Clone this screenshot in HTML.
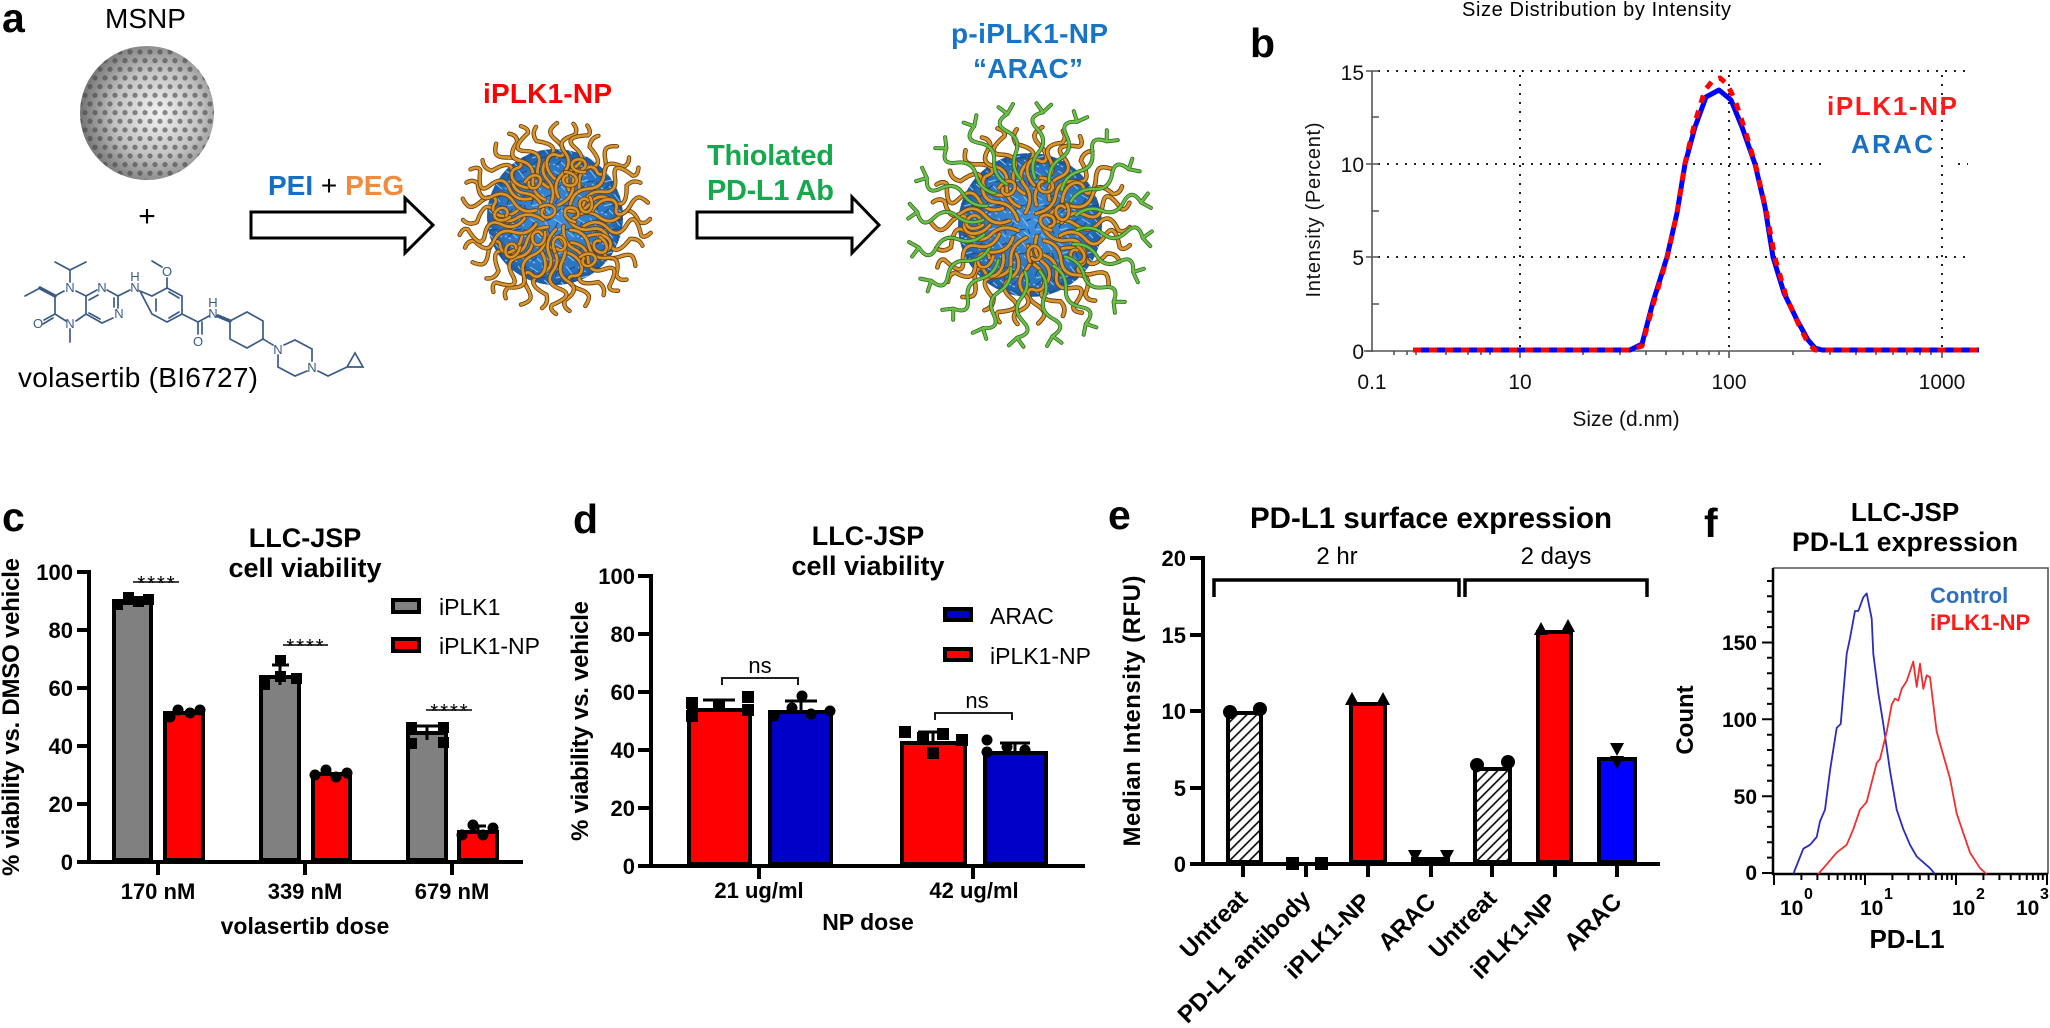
<!DOCTYPE html>
<html><head><meta charset="utf-8"><style>
body{margin:0;background:#fff;}
svg{display:block;}
svg text{font-family:"Liberation Sans",Arial,sans-serif;}
.b{font-weight:bold;}
</style></head><body>
<svg xmlns="http://www.w3.org/2000/svg" width="2050" height="1028" viewBox="0 0 2050 1028">
<defs>
<radialGradient id="sph" cx="0.58" cy="0.5" r="0.6">
<stop offset="0" stop-color="#f2f2f2"/><stop offset="0.55" stop-color="#c2c2c2"/><stop offset="1" stop-color="#6e6e6e"/>
</radialGradient>
<pattern id="holes" patternUnits="userSpaceOnUse" width="10" height="17.32">
<circle cx="0" cy="0" r="2.6" fill="#444" opacity="0.6"/><circle cx="10" cy="0" r="2.6" fill="#444" opacity="0.6"/>
<circle cx="5" cy="8.66" r="2.6" fill="#444" opacity="0.6"/><circle cx="0" cy="17.32" r="2.6" fill="#444" opacity="0.6"/><circle cx="10" cy="17.32" r="2.6" fill="#444" opacity="0.6"/>
</pattern>
<clipPath id="sphc"><circle cx="147" cy="113" r="67"/></clipPath>
<radialGradient id="core" cx="0.5" cy="0.5" r="0.5">
<stop offset="0" stop-color="#3f8fdc"/><stop offset="0.8" stop-color="#2a74c2"/><stop offset="1" stop-color="#1d5aa0"/>
</radialGradient>
<pattern id="fib" patternUnits="userSpaceOnUse" width="24" height="24">
<path d="M2,3 L10,8 M14,2 L20,10 M4,14 L12,12 M16,16 L22,21 M1,20 L7,23 M9,18 L13,22" stroke="#8cc6f4" stroke-width="1" fill="none"/>
<path d="M6,6 L3,12 M18,5 L23,3 M11,14 L18,13 M20,13 L22,18 M3,22 L9,17" stroke="#14488a" stroke-width="1" fill="none"/>
</pattern>
<pattern id="hatch" patternUnits="userSpaceOnUse" width="7" height="7" patternTransform="rotate(45)">
<rect width="7" height="7" fill="#fff"/><line x1="1" y1="0" x2="1" y2="7" stroke="#000" stroke-width="1.6"/>
</pattern>
<path id="pA" d="M20,0 Q32,-9 44,0 T66,-2 T84,5 Q90,8 95,2"/>
<path id="pB" d="M30,4 Q42,-7 54,2 T72,-5 T88,3 Q92,6 97,-1"/>
<path id="pC" d="M12,-3 Q26,7 38,-1 T60,5 T78,-5 Q86,-9 92,-3"/>
<path id="pD" d="M38,0 C50,-14 66,-8 62,2 C58,10 68,12 76,2 S88,-6 94,2"/>
<path id="pL" d="M0,0 C8,-12 20,-6 14,3 C10,9 2,6 4,0"/>
<path id="pG" d="M45,0 Q58,-7 70,1 T92,-3 T108,1 M108,1 L116,-6 M108,1 L116,8"/>
<g id="oA" fill="none" stroke-linecap="round"><use href="#pA" stroke="#6b3d0a" stroke-width="4.4"/><use href="#pA" stroke="#d6952f" stroke-width="2.7"/></g>
<g id="oB" fill="none" stroke-linecap="round"><use href="#pB" stroke="#6b3d0a" stroke-width="4.4"/><use href="#pB" stroke="#d6952f" stroke-width="2.7"/></g>
<g id="oC" fill="none" stroke-linecap="round"><use href="#pC" stroke="#6b3d0a" stroke-width="4.4"/><use href="#pC" stroke="#d6952f" stroke-width="2.7"/></g>
<g id="oD" fill="none" stroke-linecap="round"><use href="#pD" stroke="#6b3d0a" stroke-width="4.4"/><use href="#pD" stroke="#d6952f" stroke-width="2.7"/></g>
<g id="oL" fill="none" stroke-linecap="round"><use href="#pL" stroke="#6b3d0a" stroke-width="4.2"/><use href="#pL" stroke="#d6952f" stroke-width="2.6"/></g>
<g id="oG" fill="none" stroke-linecap="round"><use href="#pG" stroke="#2f6a1c" stroke-width="3.8"/><use href="#pG" stroke="#6cc04a" stroke-width="2.3"/></g>
</defs>

<!-- ================= PANEL A ================= -->
<text x="2" y="32" class="b" font-size="41">a</text>
<text x="105" y="28" font-size="28">MSNP</text>
<circle cx="147" cy="113" r="67" fill="url(#sph)"/>
<g clip-path="url(#sphc)"><rect x="80" y="46" width="134" height="134" fill="url(#holes)"/></g>
<text x="147" y="226" font-size="30" text-anchor="middle">+</text>

<!-- molecule -->
<g stroke="#3b5b85" stroke-width="1.7" fill="none" stroke-linecap="round">
<path d="M55,262 L70,270 L86,262 M70,270 L70,282"/>
<path d="M25,296 L40,288"/>
<path d="M40,288 L55,296" stroke-width="3.5"/>
<path d="M64,291 L55,296 L55,314 L66,321 M76,321 L86,314 L86,296 L76,291"/>
<path d="M55,314 L44,320 M53,318 L43,324"/>
<path d="M70,329 L70,342"/>
<path d="M86,296 L97,290 M89,300 L98,295 M107,290 L118,296 L118,308 M114,298 L114,307 M113,318 L102,323 L86,314 M100,319 L89,313"/>
<path d="M118,296 L130,290"/>
<path d="M140,291 L152,296 L167,288 L182,296 L182,314 L167,322 L152,314 Z"/>
<path d="M156,311 L156,299 M169,318 L179,312 M169,292 L179,298"/>
<path d="M167,288 L167,278 M162,267 L152,261"/>
<path d="M182,314 L198,322 L209,316 M198,322 L198,334 M202,322 L202,334"/>
<path d="M218,316 L230,321" stroke-width="3.5"/>
<path d="M230,321 L247,312 L263,321 L263,339 L247,348 L230,339 Z"/>
<path d="M263,339 L273,345" stroke-dasharray="2 1.5"/>
<path d="M284,345 L295,340 L312,349 L312,361 M307,371 L295,376 L278,367 L278,355"/>
<path d="M318,371 L328,376 L347,367 M347,367 L363,367 L355,353 Z"/>
</g>
<g fill="#3b5b85" font-size="13" text-anchor="middle">
<text x="70" y="292">N</text><text x="70" y="328">N</text><text x="38" y="328">O</text>
<text x="102" y="292">N</text><text x="119" y="318">N</text><text x="135" y="292">N</text><text x="135" y="281">H</text>
<text x="167" y="276">O</text><text x="198" y="346">O</text><text x="213" y="318">N</text><text x="213" y="307">H</text>
<text x="278" y="354">N</text><text x="312" y="372">N</text>
</g>
<text x="18" y="387" font-size="28" textLength="240">volasertib (BI6727)</text>

<!-- arrows -->
<path d="M251,212 L405,212 L405,198 L433,225 L405,253 L405,238 L251,238 Z" fill="#fff" stroke="#000" stroke-width="3"/>
<path d="M697,212 L852,212 L852,197 L879,225 L852,253 L852,238 L697,238 Z" fill="#fff" stroke="#000" stroke-width="3"/>
<text x="268" y="195" font-size="28" class="b"><tspan fill="#1570c0">PEI</tspan><tspan fill="#000" font-weight="normal"> + </tspan><tspan fill="#f08a3c">PEG</tspan></text>
<text x="483" y="103" font-size="28" class="b" fill="#ff0000" textLength="129">iPLK1-NP</text>
<text x="707" y="165" font-size="29" class="b" fill="#16a84c" textLength="127">Thiolated</text>
<text x="707" y="200" font-size="29" class="b" fill="#16a84c" textLength="127">PD-L1 Ab</text>
<text x="951" y="43" font-size="28" class="b" fill="#1874c4" textLength="157">p-iPLK1-NP</text>
<text x="973" y="78" font-size="28" class="b" fill="#1874c4" textLength="110">“ARAC”</text>

<!-- NP1 -->
<g>
<circle cx="555" cy="217" r="68" fill="url(#core)"/>
<circle cx="555" cy="217" r="68" fill="url(#fib)"/>
<g transform="translate(555,217)">
<use href="#oA" transform="rotate(0)"/><use href="#oB" transform="rotate(10)"/><use href="#oC" transform="rotate(20)"/><use href="#oD" transform="rotate(30)"/>
<use href="#oA" transform="rotate(40)"/><use href="#oB" transform="rotate(50)"/><use href="#oC" transform="rotate(60)"/><use href="#oD" transform="rotate(70)"/>
<use href="#oA" transform="rotate(80)"/><use href="#oB" transform="rotate(90)"/><use href="#oC" transform="rotate(100)"/><use href="#oD" transform="rotate(110)"/>
<use href="#oA" transform="rotate(120)"/><use href="#oB" transform="rotate(130)"/><use href="#oC" transform="rotate(140)"/><use href="#oD" transform="rotate(150)"/>
<use href="#oA" transform="rotate(160)"/><use href="#oB" transform="rotate(170)"/><use href="#oC" transform="rotate(180)"/><use href="#oD" transform="rotate(190)"/>
<use href="#oA" transform="rotate(200)"/><use href="#oB" transform="rotate(210)"/><use href="#oC" transform="rotate(220)"/><use href="#oD" transform="rotate(230)"/>
<use href="#oA" transform="rotate(240)"/><use href="#oB" transform="rotate(250)"/><use href="#oC" transform="rotate(260)"/><use href="#oD" transform="rotate(270)"/>
<use href="#oA" transform="rotate(280)"/><use href="#oB" transform="rotate(290)"/><use href="#oC" transform="rotate(300)"/><use href="#oD" transform="rotate(310)"/>
<use href="#oA" transform="rotate(320)"/><use href="#oB" transform="rotate(330)"/><use href="#oC" transform="rotate(340)"/><use href="#oD" transform="rotate(350)"/>
<use href="#oL" transform="translate(-30,-35)"/><use href="#oL" transform="translate(10,-45) rotate(60)"/><use href="#oL" transform="translate(35,-20) rotate(120)"/>
<use href="#oL" transform="translate(-45,0) rotate(200)"/><use href="#oL" transform="translate(-15,-10) rotate(30)"/><use href="#oL" transform="translate(20,5) rotate(250)"/>
<use href="#oL" transform="translate(45,20) rotate(90)"/><use href="#oL" transform="translate(-35,30) rotate(160)"/><use href="#oL" transform="translate(0,35) rotate(300)"/>
<use href="#oL" transform="translate(25,40) rotate(20)"/><use href="#oL" transform="translate(-10,15) rotate(140)"/><use href="#oL" transform="translate(30,-45) rotate(230)"/>
</g>
</g>

<!-- NP2 -->
<g>
<circle cx="1030" cy="225" r="72" fill="url(#core)"/>
<circle cx="1030" cy="225" r="72" fill="url(#fib)"/>
<g transform="translate(1030,225) scale(1.05)">
<use href="#oA" transform="rotate(0)"/><use href="#oB" transform="rotate(12)"/><use href="#oC" transform="rotate(24)"/><use href="#oD" transform="rotate(36)"/>
<use href="#oA" transform="rotate(48)"/><use href="#oB" transform="rotate(60)"/><use href="#oC" transform="rotate(72)"/><use href="#oD" transform="rotate(84)"/>
<use href="#oA" transform="rotate(96)"/><use href="#oB" transform="rotate(108)"/><use href="#oC" transform="rotate(120)"/><use href="#oD" transform="rotate(132)"/>
<use href="#oA" transform="rotate(144)"/><use href="#oB" transform="rotate(156)"/><use href="#oC" transform="rotate(168)"/><use href="#oD" transform="rotate(180)"/>
<use href="#oA" transform="rotate(192)"/><use href="#oB" transform="rotate(204)"/><use href="#oC" transform="rotate(216)"/><use href="#oD" transform="rotate(228)"/>
<use href="#oA" transform="rotate(240)"/><use href="#oB" transform="rotate(252)"/><use href="#oC" transform="rotate(264)"/><use href="#oD" transform="rotate(276)"/>
<use href="#oA" transform="rotate(288)"/><use href="#oB" transform="rotate(300)"/><use href="#oC" transform="rotate(312)"/><use href="#oD" transform="rotate(324)"/>
<use href="#oA" transform="rotate(336)"/><use href="#oB" transform="rotate(348)"/>
<use href="#oL" transform="translate(-30,-35)"/><use href="#oL" transform="translate(10,-45) rotate(60)"/><use href="#oL" transform="translate(35,-20) rotate(120)"/>
<use href="#oL" transform="translate(-45,0) rotate(200)"/><use href="#oL" transform="translate(20,5) rotate(250)"/>
<use href="#oL" transform="translate(45,20) rotate(90)"/><use href="#oL" transform="translate(-35,30) rotate(160)"/><use href="#oL" transform="translate(0,35) rotate(300)"/>
<use href="#oG" transform="rotate(6)"/><use href="#oG" transform="rotate(24)"/><use href="#oG" transform="rotate(42)"/><use href="#oG" transform="rotate(60)"/>
<use href="#oG" transform="rotate(78)"/><use href="#oG" transform="rotate(96)"/><use href="#oG" transform="rotate(114)"/><use href="#oG" transform="rotate(132)"/>
<use href="#oG" transform="rotate(150)"/><use href="#oG" transform="rotate(168)"/><use href="#oG" transform="rotate(186)"/><use href="#oG" transform="rotate(204)"/>
<use href="#oG" transform="rotate(222)"/><use href="#oG" transform="rotate(240)"/><use href="#oG" transform="rotate(258)"/><use href="#oG" transform="rotate(276)"/>
<use href="#oG" transform="rotate(294)"/><use href="#oG" transform="rotate(312)"/><use href="#oG" transform="rotate(330)"/><use href="#oG" transform="rotate(348)"/>
</g>
</g>

<!-- ================= PANEL B ================= -->
<text x="1250" y="57" class="b" font-size="41">b</text>
<text x="1462" y="16" font-size="20" textLength="269">Size Distribution by Intensity</text>
<g stroke="#222" stroke-width="2" stroke-dasharray="2 7" fill="none">
<path d="M1378,71 L1968,71"/>
<path d="M1378,164 L1826,164 M1958,164 L1968,164"/>
<path d="M1378,257 L1968,257"/>
<path d="M1520,75 L1520,348"/>
<path d="M1729,75 L1729,348"/>
<path d="M1942,75 L1942,348"/>
</g>
<g stroke="#555" stroke-width="1.6" fill="none">
<path d="M1372,71 L1372,352 M1364,351 L1979,351"/>
<path d="M1366,71 L1379,71 M1366,164 L1379,164 M1366,257 L1379,257 M1366,351 L1372,351 M1372,117 L1379,117 M1372,211 L1379,211 M1372,304 L1379,304"/>
<path d="M1520,351 L1520,358 M1729,351 L1729,358 M1942,351 L1942,358 M1583,351 L1583,355 M1620,351 L1620,355 M1646,351 L1646,355 M1666,351 L1666,355 M1683,351 L1683,355 M1697,351 L1697,355 M1709,351 L1709,355 M1719,351 L1719,355 M1793,351 L1793,355 M1830,351 L1830,355 M1856,351 L1856,355 M1876,351 L1876,355 M1893,351 L1893,355 M1907,351 L1907,355 M1920,351 L1920,355 M1931,351 L1931,355 M1394,351 L1394,355 M1407,351 L1407,355 M1416,351 L1416,355 M1446,351 L1446,355 M1468,351 L1468,355 M1481,351 L1481,355 M1490,351 L1490,355"/>
</g>
<g font-size="21" text-anchor="end" fill="#111">
<text x="1364" y="80">15</text><text x="1364" y="172">10</text><text x="1364" y="265">5</text><text x="1364" y="359">0</text>
</g>
<g font-size="21" text-anchor="middle" fill="#111">
<text x="1372" y="389">0.1</text><text x="1520" y="389">10</text><text x="1729" y="389">100</text><text x="1942" y="389">1000</text>
<text x="1626" y="426">Size (d.nm)</text>
</g>
<text transform="translate(1320,210) rotate(-90)" font-size="20" text-anchor="middle" textLength="175" fill="#111">Intensity (Percent)</text>
<polyline fill="none" stroke="#0000ff" stroke-width="5" stroke-linejoin="round" points="1413,350 1630,350 1642,344 1653,302 1667,257 1677,213 1685,164 1695,127 1706,97 1719,90 1731,100 1742,127 1755,164 1765,207 1773,257 1784,293 1797,320 1808,340 1815,348 1822,350 1979,350"/>
<polyline fill="none" stroke="#ff0000" stroke-width="5" stroke-dasharray="8 8" stroke-linejoin="round" points="1413,350 1630,350 1642,346 1653,305 1667,258 1677,213 1685,163 1695,122 1705,90 1713,80 1720,78 1727,84 1735,100 1745,130 1756,167 1766,210 1775,258 1786,296 1798,323 1808,343 1815,350 1979,350"/>
<text x="1827" y="115" font-size="26" class="b" fill="#ff1a1a" textLength="130">iPLK1-NP</text>
<text x="1851" y="153" font-size="26" class="b" fill="#1a70c0" textLength="82">ARAC</text>

<!-- ================= PANEL C ================= -->
<text x="2" y="531" class="b" font-size="41">c</text>
<text x="305" y="547" class="b" font-size="27" text-anchor="middle">LLC-JSP</text>
<text x="305" y="577" class="b" font-size="27" text-anchor="middle">cell viability</text>
<text transform="translate(19,717) rotate(-90)" class="b" font-size="24" text-anchor="middle" textLength="318">% viability vs. DMSO vehicle</text>
<g class="b" font-size="22" text-anchor="end">
<text x="73" y="580">100</text><text x="73" y="638">80</text><text x="73" y="696">60</text><text x="73" y="754">40</text><text x="73" y="812">20</text><text x="73" y="870">0</text>
</g>
<g stroke="#000" stroke-width="4" fill="none">
<path d="M77,572 L89,572 M77,630 L89,630 M77,688 L89,688 M77,746 L89,746 M77,804 L89,804"/>
<path d="M158,862 L158,875 M305,862 L305,875 M452,862 L452,875"/>
</g>
<g stroke="#000" stroke-width="4">
<rect x="114" y="603" width="37" height="257" fill="#808080"/>
<rect x="165" y="713" width="38" height="147" fill="#ff0000"/>
<rect x="261" y="677" width="38" height="183" fill="#808080"/>
<rect x="313" y="774" width="37" height="86" fill="#ff0000"/>
<rect x="408" y="733" width="38" height="127" fill="#808080"/>
<rect x="459" y="832" width="38" height="28" fill="#ff0000"/>
</g>
<path d="M89,570 L89,864 M77,862 L523,862" stroke="#000" stroke-width="4" fill="none"/>
<g stroke="#000" stroke-width="3" fill="none">
<path d="M280,665 L280,685 M272,665 L289,665"/>
<path d="M427,726 L427,740 M411,726 L443,726"/>
<path d="M478,826 L478,832 M470,826 L486,826"/>
</g>
<g fill="#000">
<rect x="112" y="599" width="11" height="11"/><rect x="123" y="592" width="11" height="11"/><rect x="133" y="596" width="11" height="11"/><rect x="143" y="594" width="11" height="11"/>
<rect x="259" y="679" width="11" height="11"/><rect x="275" y="655" width="11" height="11"/><rect x="275" y="671" width="11" height="11"/><rect x="291" y="673" width="11" height="11"/>
<rect x="406" y="722" width="11" height="11"/><rect x="406" y="738" width="11" height="11"/><rect x="438" y="722" width="11" height="11"/><rect x="438" y="737" width="11" height="11"/>
<circle cx="170" cy="717" r="5.5"/><circle cx="178" cy="710" r="5.5"/><circle cx="190" cy="713" r="5.5"/><circle cx="200" cy="710" r="5.5"/>
<circle cx="315" cy="775" r="5.5"/><circle cx="326" cy="770" r="5.5"/><circle cx="336" cy="777" r="5.5"/><circle cx="347" cy="773" r="5.5"/>
<circle cx="462" cy="835" r="5.5"/><circle cx="473" cy="825" r="5.5"/><circle cx="483" cy="835" r="5.5"/><circle cx="493" cy="828" r="5.5"/>
</g>
<g stroke="#000" stroke-width="1.5"><path d="M133,582 L179,582 M283,645 L328,645 M426,710 L472,710"/></g>
<g font-size="20" text-anchor="middle" letter-spacing="2">
<text x="157" y="590">****</text><text x="306" y="653">****</text><text x="450" y="718">****</text>
</g>
<rect x="393" y="600" width="26" height="12" fill="#808080" stroke="#000" stroke-width="4"/>
<rect x="393" y="639" width="26" height="12" fill="#ff0000" stroke="#000" stroke-width="4"/>
<text x="439" y="615" font-size="23">iPLK1</text>
<text x="439" y="654" font-size="23">iPLK1-NP</text>
<g class="b" font-size="22" text-anchor="middle">
<text x="158" y="899">170 nM</text><text x="305" y="899">339 nM</text><text x="452" y="899">679 nM</text>
</g>
<text x="305" y="934" class="b" font-size="23" text-anchor="middle">volasertib dose</text>

<!-- ================= PANEL D ================= -->
<text x="573" y="533" class="b" font-size="41">d</text>
<text x="868" y="545" class="b" font-size="27" text-anchor="middle">LLC-JSP</text>
<text x="868" y="575" class="b" font-size="27" text-anchor="middle">cell viability</text>
<text transform="translate(588,721) rotate(-90)" class="b" font-size="24" text-anchor="middle" textLength="240">% viability vs. vehicle</text>
<g class="b" font-size="22" text-anchor="end">
<text x="635" y="584">100</text><text x="635" y="642">80</text><text x="635" y="700">60</text><text x="635" y="758">40</text><text x="635" y="816">20</text><text x="635" y="874">0</text>
</g>
<g stroke="#000" stroke-width="4" fill="none">
<path d="M638,576 L651,576 M638,634 L651,634 M638,692 L651,692 M638,750 L651,750 M638,808 L651,808"/>
<path d="M759,866 L759,879 M973,866 L973,879"/>
</g>
<g stroke="#000" stroke-width="4">
<rect x="689" y="710" width="61" height="154" fill="#ff0000"/>
<rect x="770" y="712" width="61" height="152" fill="#0000c8"/>
<rect x="902" y="743" width="63" height="121" fill="#ff0000"/>
<rect x="985" y="753" width="61" height="111" fill="#0000c8"/>
</g>
<path d="M651,574 L651,868 M638,866 L1085,866" stroke="#000" stroke-width="4" fill="none"/>
<g stroke="#000" stroke-width="3" fill="none">
<path d="M719,700 L719,712 M703,700 L735,700"/>
<path d="M801,701 L801,712 M785,701 L817,701"/>
<path d="M933,732 L933,744 M918,732 L948,732"/>
<path d="M1015,743 L1015,752 M1000,743 L1030,743"/>
</g>
<g fill="#000">
<rect x="686" y="697" width="12" height="12"/><rect x="686" y="710" width="12" height="12"/><rect x="713" y="700" width="12" height="12"/><rect x="742" y="691" width="12" height="12"/><rect x="742" y="704" width="12" height="12"/>
<circle cx="774" cy="716" r="5.5"/><circle cx="792" cy="708" r="5.5"/><circle cx="802" cy="696" r="5.5"/><circle cx="811" cy="714" r="5.5"/><circle cx="830" cy="711" r="5.5"/>
<rect x="899" y="726" width="12" height="12"/><rect x="917" y="732" width="12" height="12"/><rect x="927" y="747" width="12" height="12"/><rect x="937" y="728" width="12" height="12"/><rect x="956" y="734" width="12" height="12"/>
<circle cx="987" cy="740" r="5.5"/><circle cx="987" cy="752" r="5.5"/><circle cx="1007" cy="747" r="5.5"/><circle cx="1025" cy="750" r="5.5"/>
</g>
<g stroke="#000" stroke-width="1.8" fill="none">
<path d="M722,685 L722,678 L798,678 L798,685"/>
<path d="M935,720 L935,713 L1012,713 L1012,720"/>
</g>
<g font-size="22" text-anchor="middle"><text x="760" y="673">ns</text><text x="977" y="708">ns</text></g>
<rect x="945" y="609" width="26" height="11" fill="#0000c8" stroke="#000" stroke-width="4"/>
<rect x="945" y="649" width="26" height="11" fill="#ff0000" stroke="#000" stroke-width="4"/>
<text x="990" y="624" font-size="23">ARAC</text>
<text x="990" y="664" font-size="23">iPLK1-NP</text>
<g class="b" font-size="22" text-anchor="middle">
<text x="759" y="898">21 ug/ml</text><text x="974" y="898">42 ug/ml</text>
</g>
<text x="868" y="930" class="b" font-size="23" text-anchor="middle">NP dose</text>

<!-- ================= PANEL E ================= -->
<text x="1108" y="529" class="b" font-size="41">e</text>
<text x="1250" y="528" class="b" font-size="29.5" textLength="362">PD-L1 surface expression</text>
<text transform="translate(1140,711) rotate(-90)" class="b" font-size="24" text-anchor="middle" textLength="271">Median Intensity (RFU)</text>
<g class="b" font-size="22" text-anchor="end">
<text x="1186" y="566">20</text><text x="1186" y="643">15</text><text x="1186" y="719">10</text><text x="1186" y="796">5</text><text x="1186" y="872">0</text>
</g>
<g stroke="#000" stroke-width="4" fill="none">
<path d="M1190,558 L1203,558 M1190,635 L1203,635 M1190,711 L1203,711 M1190,788 L1203,788"/>
<path d="M1243,864 L1243,877 M1306,864 L1306,877 M1368,864 L1368,877 M1431,864 L1431,877 M1492,864 L1492,877 M1555,864 L1555,877 M1617,864 L1617,877"/>
</g>
<g stroke="#000" stroke-width="4">
<rect x="1228" y="713" width="33" height="149" fill="url(#hatch)"/>
<rect x="1351" y="704" width="34" height="158" fill="#ff0000"/>
<rect x="1413" y="859" width="35" height="3" fill="#0000ff"/>
<rect x="1475" y="769" width="35" height="93" fill="url(#hatch)"/>
<rect x="1538" y="632" width="33" height="230" fill="#ff0000"/>
<rect x="1599" y="759" width="36" height="103" fill="#0000ff"/>
</g>
<path d="M1203,556 L1203,866 M1190,864 L1660,864" stroke="#000" stroke-width="4" fill="none"/>
<g stroke="#000" stroke-width="3.5" fill="none">
<path d="M1214,597 L1214,580 L1459,580 L1459,597"/>
<path d="M1465,597 L1465,580 L1647,580 L1647,597"/>
</g>
<g font-size="24" text-anchor="middle"><text x="1337" y="564">2 hr</text><text x="1556" y="564">2 days</text></g>
<g fill="#000">
<circle cx="1230" cy="712" r="7"/><circle cx="1260" cy="709" r="7"/>
<rect x="1286" y="857" width="13" height="13"/><rect x="1315" y="857" width="13" height="13"/>
<path d="M1352,692 L1359,705 L1345,705 Z M1383,692 L1390,705 L1376,705 Z"/>
<path d="M1408,850 L1422,850 L1415,863 Z M1440,850 L1454,850 L1447,863 Z"/>
<circle cx="1477" cy="765" r="7"/><circle cx="1508" cy="762" r="7"/>
<path d="M1541,622 L1548,635 L1534,635 Z M1568,619 L1575,632 L1561,632 Z"/>
<path d="M1610,743 L1624,743 L1617,756 Z M1610,756 L1624,756 L1617,769 Z"/>
</g>
<g class="b" font-size="24" text-anchor="end">
<text transform="translate(1249,900) rotate(-45)">Untreat</text>
<text transform="translate(1312,900) rotate(-45)">PD-L1 antibody</text>
<text transform="translate(1372,903) rotate(-45)">iPLK1-NP</text>
<text transform="translate(1437,903) rotate(-45)">ARAC</text>
<text transform="translate(1498,900) rotate(-45)">Untreat</text>
<text transform="translate(1558,903) rotate(-45)">iPLK1-NP</text>
<text transform="translate(1623,903) rotate(-45)">ARAC</text>
</g>

<!-- ================= PANEL F ================= -->
<text x="1704" y="537" class="b" font-size="41">f</text>
<text x="1905" y="521" class="b" font-size="26" text-anchor="middle">LLC-JSP</text>
<text x="1905" y="551" class="b" font-size="26.5" text-anchor="middle" textLength="226">PD-L1 expression</text>
<text transform="translate(1693,720) rotate(-90)" class="b" font-size="24" text-anchor="middle">Count</text>
<path d="M1773,568 L2048,568 L2048,874" stroke="#555" stroke-width="1.6" fill="none"/>
<g class="b" font-size="21" text-anchor="end">
<text x="1757" y="650">150</text><text x="1757" y="727">100</text><text x="1757" y="804">50</text><text x="1757" y="880">0</text>
</g>
<g stroke="#000" stroke-width="2" fill="none">
<path d="M1762,873 L1773,873 M1767,857.6 L1773,857.6 M1767,842.3 L1773,842.3 M1767,826.9 L1773,826.9 M1767,811.5 L1773,811.5 M1762,796.2 L1773,796.2 M1767,780.8 L1773,780.8 M1767,765.4 L1773,765.4 M1767,750 L1773,750 M1767,734.7 L1773,734.7 M1762,719.3 L1773,719.3 M1767,703.9 L1773,703.9 M1767,688.6 L1773,688.6 M1767,673.2 L1773,673.2 M1767,657.8 L1773,657.8 M1762,642.5 L1773,642.5 M1767,627.1 L1773,627.1 M1767,611.7 L1773,611.7 M1767,596.3 L1773,596.3 M1767,581 L1773,581"/>
<path d="M1774,874 L1774,885 M1801.4,874 L1801.4,880 M1817.4,874 L1817.4,880 M1828.8,874 L1828.8,880 M1837.6,874 L1837.6,880 M1844.8,874 L1844.8,880 M1850.9,874 L1850.9,880 M1856.2,874 L1856.2,880 M1860.8,874 L1860.8,880
M1865,874 L1865,885 M1892.4,874 L1892.4,880 M1908.4,874 L1908.4,880 M1919.8,874 L1919.8,880 M1928.6,874 L1928.6,880 M1935.8,874 L1935.8,880 M1941.9,874 L1941.9,880 M1947.2,874 L1947.2,880 M1951.8,874 L1951.8,880
M1956,874 L1956,885 M1983.4,874 L1983.4,880 M1999.4,874 L1999.4,880 M2010.8,874 L2010.8,880 M2019.6,874 L2019.6,880 M2026.8,874 L2026.8,880 M2032.9,874 L2032.9,880 M2038.2,874 L2038.2,880 M2042.8,874 L2042.8,880 M2047,874 L2047,885"/>
</g>
<path d="M1773,568 L1773,875 M1772,874 L2048,874" stroke="#000" stroke-width="2.5" fill="none"/>
<polyline fill="none" stroke="#2b2bc0" stroke-width="1.8" stroke-linejoin="round" points="1793.3,874 1803.3,848.7 1810,844.8 1816.7,837 1820,821.4 1825,809.7 1830,770.7 1836.7,727.9 1840.7,724 1846.7,653.8 1850,638.2 1855,611 1858.3,611 1863.3,597.3 1866.7,593.4 1871.7,618.7 1873.3,653.8 1878.3,692.8 1883.3,724 1890,770.7 1896.7,809.7 1903.3,829.2 1910,844.8 1916.7,856.5 1923.3,862.3 1930,868.2 1935,874"/>
<polyline fill="none" stroke="#f03030" stroke-width="1.8" stroke-linejoin="round" points="1818.3,874 1826.7,864.3 1836.7,852.6 1846.7,844.8 1853.3,829.2 1860,809.7 1866.7,801.9 1871.7,782.4 1876.7,762.9 1880,759 1886.7,731.8 1891.7,704.5 1895,698.6 1898.3,700.6 1901.7,688.9 1906.7,681.1 1913.3,661.6 1916.7,686.9 1920,663.6 1923.3,688.9 1926.7,675.3 1930,677.2 1936.7,731.8 1943.3,755.1 1950,778.5 1956.7,813.6 1963.3,833.1 1970,852.6 1980,868.2 1986.7,874"/>
<text x="1930" y="603" class="b" font-size="22" fill="#2e6fbe">Control</text>
<text x="1930" y="630" class="b" font-size="22" fill="#ff1a1a">iPLK1-NP</text>
<g class="b" font-size="21">
<text x="1780" y="915">10</text><text x="1804" y="899" font-size="16">0</text>
<text x="1860" y="915">10</text><text x="1884" y="899" font-size="16">1</text>
<text x="1952" y="915">10</text><text x="1976" y="899" font-size="16">2</text>
<text x="2016" y="915">10</text><text x="2040" y="899" font-size="16">3</text>
</g>
<text x="1907" y="948" class="b" font-size="26" text-anchor="middle">PD-L1</text>
</svg>
</body></html>
